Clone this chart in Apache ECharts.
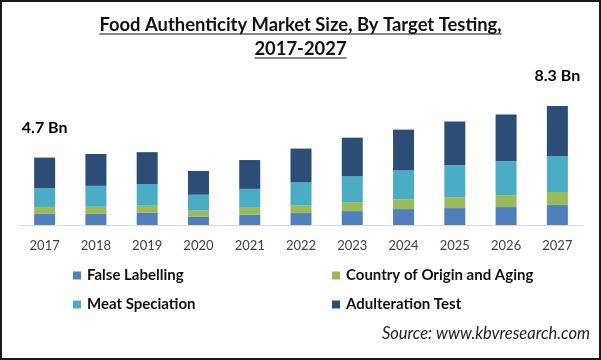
<!DOCTYPE html>
<html>
<head>
    <meta charset="utf-8">
    <title>Food Authenticity Market</title>
    <script src="https://cdn.jsdelivr.net/npm/echarts@6/dist/echarts.min.js"></script>
    <style>
        html, body { margin: 0; padding: 0; background: #fff; }
    </style>
</head>
<body>
<div id="main" style="width: 601px; height: 360px;"></div>
<script type="text/javascript">
    // data (USD Bn)
    var years = ['2017', '2018', '2019', '2020', '2021', '2022', '2023', '2024', '2025', '2026', '2027'];
    var falseLabelling = [0.78, 0.78, 0.85, 0.58, 0.71, 0.83, 0.97, 1.11, 1.18, 1.25, 1.39];
    var countryOrigin = [0.48, 0.49, 0.49, 0.42, 0.49, 0.55, 0.62, 0.69, 0.76, 0.83, 0.91];
    var meatSpeciation = [1.31, 1.46, 1.52, 1.11, 1.32, 1.59, 1.80, 2.01, 2.22, 2.36, 2.51];
    var adulteration = [2.13, 2.22, 2.22, 1.66, 2.01, 2.36, 2.70, 2.84, 3.05, 3.26, 3.49];
    var totalLabels = { 0: '4.7 Bn', 10: '8.3 Bn' };

    var seriesNames = ['False Labelling', 'Country of Origin and Aging', 'Meat Speciation', 'Adulteration Test'];
    var colors = ['#4f7fbd', '#9bbb59', '#4bacc6', '#2c4d75'];

    var FONT = 'Lato, "Open Sans", sans-serif';
    var titleText = 'Food Authenticity Market Size, By Target Testing,\n2017-2027';
    var titleSize = 18.4;

    var myChart = echarts.init(document.getElementById('main'));

    // measure title lines for the underline
    var ctx = document.createElement('canvas').getContext('2d');
    ctx.font = 'bold ' + titleSize + 'px ' + FONT;
    var underlines = titleText.split('\n').map(function (line, i) {
        var w = ctx.measureText(line).width;
        var y = i === 0 ? 34 : 58;
        return {
            type: 'line',
            shape: { x1: 300.5 - w / 2, y1: y, x2: 300.5 + w / 2, y2: y },
            style: { stroke: '#111', lineWidth: 1.2 }
        };
    });

    function makeSeries(name, data, idx) {
        var s = {
            name: name,
            type: 'bar',
            stack: 'total',
            barWidth: 21,
            data: data,
            itemStyle: { color: colors[idx] }
        };
        if (idx === 3) {
            s.label = {
                show: true,
                position: 'top',
                distance: 22,
                color: '#000',
                fontFamily: FONT,
                fontWeight: 'bold',
                fontSize: 16,
                formatter: function (p) {
                    return totalLabels[p.dataIndex] || '';
                }
            };
        }
        return s;
    }

    var legendBase = {
        orient: 'vertical',
        top: 268,
        padding: 0,
        itemWidth: 8,
        itemHeight: 8,
        itemGap: 14,
        icon: 'rect',
        textStyle: { fontFamily: FONT, fontWeight: 'bold', fontSize: 15, color: '#111', padding: [0, 0, 0, 1] }
    };

    var option = {
        animation: false,
        backgroundColor: '#fff',
        title: {
            text: titleText,
            left: 'center',
            top: 8,
            textStyle: {
                fontFamily: FONT,
                fontWeight: 'bold',
                fontSize: titleSize,
                lineHeight: 24,
                color: '#111'
            }
        },
        legend: [
            echarts.util.merge({ left: 73, data: [seriesNames[0], seriesNames[2]] }, legendBase),
            echarts.util.merge({ left: 332, data: [seriesNames[1], seriesNames[3]] }, legendBase)
        ],
        grid: {
            left: 19,
            right: 18,
            top: 81.6,
            bottom: 135
        },
        xAxis: {
            type: 'category',
            data: years,
            axisLine: { lineStyle: { color: '#d9d9d9' } },
            axisTick: { show: false },
            axisLabel: { fontFamily: FONT, fontSize: 13, color: '#404040', margin: 14 }
        },
        yAxis: {
            type: 'value',
            min: 0,
            max: 10,
            show: false,
            splitLine: { show: false }
        },
        graphic: underlines.concat([
            {
                type: 'text',
                right: 11,
                top: 325,
                style: {
                    text: 'Source: www.kbvresearch.com',
                    fontFamily: FONT,
                    fontStyle: 'italic',
                    fontSize: 16.5,
                    fill: '#222'
                }
            },
            {
                type: 'rect',
                shape: { x: 1, y: 1, width: 599, height: 358 },
                style: { fill: 'none', stroke: '#1a1a1a', lineWidth: 2 }
            }
        ]),
        series: [
            makeSeries(seriesNames[0], falseLabelling, 0),
            makeSeries(seriesNames[1], countryOrigin, 1),
            makeSeries(seriesNames[2], meatSpeciation, 2),
            makeSeries(seriesNames[3], adulteration, 3)
        ]
    };

    myChart.setOption(option);
</script>
</body>
</html>
